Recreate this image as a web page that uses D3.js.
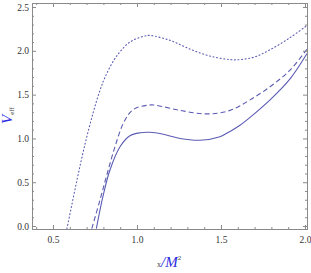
<!DOCTYPE html>
<html>
<head>
<meta charset="utf-8">
<script src="https://cdn.jsdelivr.net/npm/d3@7"></script>
<style>
  body { margin: 0; background: #fff; }
  svg text { font-family: "Liberation Serif", "DejaVu Serif", serif; }
</style>
</head>
<body>
<div id="chart"></div>
<script>
// values
var dottedX = [0.583, 0.64, 0.69, 0.74, 0.78, 0.81, 0.875, 0.958, 1.048, 1.08, 1.196, 1.315, 1.435, 1.554, 1.613, 1.70, 1.79, 1.911, 2.012];
var dottedV = [-0.03, 0.50, 0.93, 1.30, 1.55, 1.70, 1.93, 2.10, 2.17, 2.175, 2.12, 2.02, 1.94, 1.90, 1.90, 1.93, 2.01, 2.15, 2.29];
var dashedX = [0.731, 0.78, 0.82, 0.869, 0.923, 0.978, 1.065, 1.107, 1.256, 1.417, 1.554, 1.673, 1.792, 1.911, 2.012];
var dashedV = [-0.03, 0.30, 0.58, 0.905, 1.19, 1.33, 1.38, 1.38, 1.32, 1.28, 1.32, 1.44, 1.59, 1.78, 2.02];
var solidX = [0.758, 0.80, 0.839, 0.899, 0.958, 1.02, 1.077, 1.15, 1.256, 1.375, 1.494, 1.554, 1.613, 1.673, 1.792, 1.911, 2.012];
var solidV = [-0.03, 0.36, 0.64, 0.905, 1.03, 1.065, 1.07, 1.05, 1.00, 0.98, 1.02, 1.08, 1.15, 1.24, 1.44, 1.68, 1.97];
var xTicks = [0.5, 1.0, 1.5, 2.0];
var yTicks = [0.0, 0.5, 1.0, 1.5, 2.0, 2.5];

var W = 311, H = 273;
var svg = d3.select("#chart").append("svg").attr("width", W).attr("height", H);

var x = d3.scaleLinear().domain([0.375, 2.012]).range([32, 307]);
var y = d3.scaleLinear().domain([-0.034, 2.546]).range([229, 3]);

var frameColor = "#8a8a8a";
var lineColor = "#5c5cb4";

svg.append("clipPath").attr("id", "clip")
   .append("rect").attr("x", 32).attr("y", 3).attr("width", 275).attr("height", 226);

function series(xs, vs) {
  return xs.map(function(d, i) { return [d, vs[i]]; });
}
var line = d3.line()
   .x(function(d) { return x(d[0]); })
   .y(function(d) { return y(d[1]); })
   .curve(d3.curveCatmullRom.alpha(0.5));

var curves = [
  {data: series(dottedX, dottedV), dash: "1,2.6", cap: "round"},
  {data: series(dashedX, dashedV), dash: "5,3", cap: "butt"},
  {data: series(solidX, solidV), dash: null, cap: "butt"}
];

svg.append("g").attr("clip-path", "url(#clip)")
   .selectAll("path").data(curves).enter()
   .append("path")
   .attr("d", function(d) { return line(d.data); })
   .attr("fill", "none")
   .attr("stroke", lineColor)
   .attr("stroke-width", 1.1)
   .attr("stroke-linecap", function(d) { return d.cap; })
   .attr("stroke-dasharray", function(d) { return d.dash; });

var xMinor = d3.range(4, 21).map(function(d) { return d / 10; }).filter(function(d) { return xTicks.indexOf(d) < 0; });
var yMinor = d3.range(0, 26).map(function(d) { return d / 10; }).filter(function(d) { return yTicks.indexOf(d) < 0; });

function styleAxis(g) {
  g.selectAll("path").attr("stroke", frameColor);
  g.selectAll("line").attr("stroke", frameColor);
  g.selectAll("text").attr("fill", "#333").style("font-size", "9.5px");
}

// bottom
svg.append("g").attr("transform", "translate(0,229)")
   .call(d3.axisBottom(x).tickValues(xTicks).tickFormat(d3.format(".1f")).tickSizeInner(-4).tickSizeOuter(0).tickPadding(7))
   .call(styleAxis);
svg.append("g").attr("transform", "translate(0,229)")
   .call(d3.axisBottom(x).tickValues(xMinor).tickFormat("").tickSizeInner(-2).tickSizeOuter(0))
   .call(styleAxis);
// top
svg.append("g").attr("transform", "translate(0,3)")
   .call(d3.axisTop(x).tickValues(xTicks).tickFormat("").tickSizeInner(-4).tickSizeOuter(0))
   .call(styleAxis);
svg.append("g").attr("transform", "translate(0,3)")
   .call(d3.axisTop(x).tickValues(xMinor).tickFormat("").tickSizeInner(-2).tickSizeOuter(0))
   .call(styleAxis);
// left
svg.append("g").attr("transform", "translate(32,0)")
   .call(d3.axisLeft(y).tickValues(yTicks).tickFormat(d3.format(".1f")).tickSizeInner(-4).tickSizeOuter(0).tickPadding(3))
   .call(styleAxis);
svg.append("g").attr("transform", "translate(32,0)")
   .call(d3.axisLeft(y).tickValues(yMinor).tickFormat("").tickSizeInner(-2).tickSizeOuter(0))
   .call(styleAxis);
// right
svg.append("g").attr("transform", "translate(307,0)")
   .call(d3.axisRight(y).tickValues(yTicks).tickFormat("").tickSizeInner(-4).tickSizeOuter(0))
   .call(styleAxis);
svg.append("g").attr("transform", "translate(307,0)")
   .call(d3.axisRight(y).tickValues(yMinor).tickFormat("").tickSizeInner(-2).tickSizeOuter(0))
   .call(styleAxis);

// axis titles
var yl = svg.append("text")
   .attr("transform", "translate(12,124) rotate(-90)")
   .attr("text-anchor", "start");
yl.append("tspan").text("V").attr("fill", "#2a2ae0").style("font-size", "15px").style("font-style", "italic");
yl.append("tspan").text("eff").attr("fill", "#444").style("font-size", "7px").attr("dy", 2);

var xl = svg.append("text")
   .attr("x", 157).attr("y", 267);
xl.append("tspan").text("x").attr("fill", "#444").style("font-size", "8px");
xl.append("tspan").text("/M").attr("fill", "#2a2ae0").style("font-size", "15px").style("font-style", "italic");
xl.append("tspan").text("2").attr("fill", "#444").style("font-size", "7px").attr("dy", -7);
</script>
</body>
</html>
